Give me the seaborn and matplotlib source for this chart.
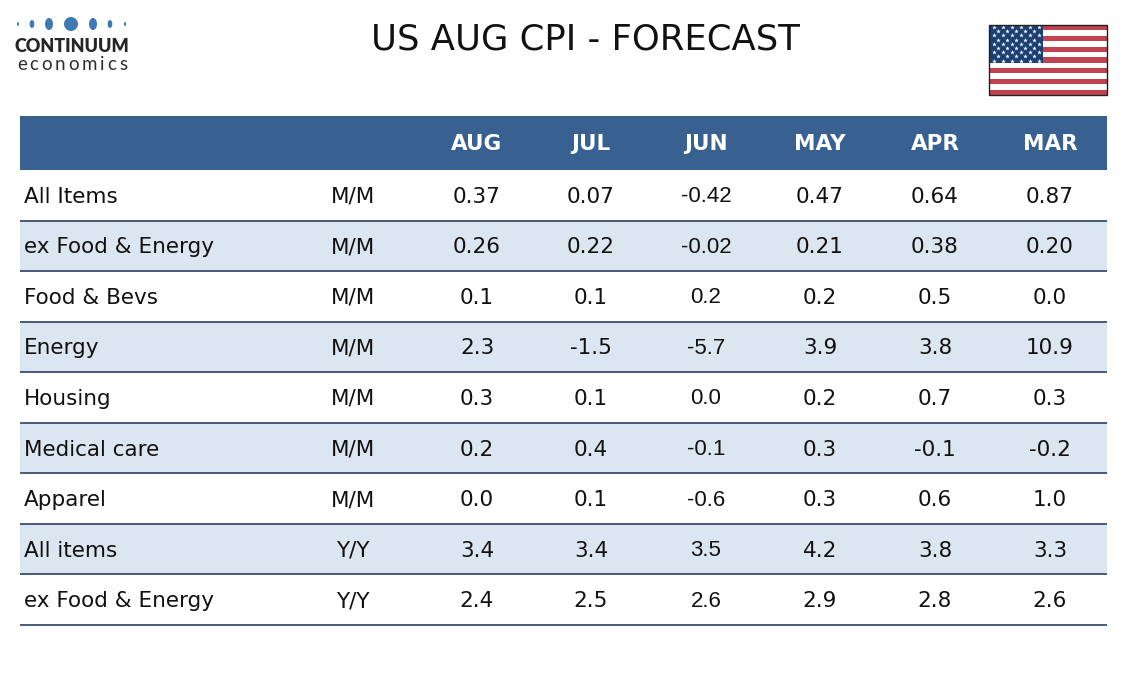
import matplotlib
matplotlib.use("Agg")
import matplotlib.pyplot as plt
import matplotlib.patches as mpatches
import numpy as np
import pandas as pd
import seaborn as sns

# ---- data ----
title = "US AUG CPI - FORECAST"
months = ["AUG", "JUL", "JUN", "MAY", "APR", "MAR"]
items = ["All Items", "ex Food & Energy", "Food & Bevs", "Energy", "Housing",
         "Medical care", "Apparel", "All items", "ex Food & Energy"]
units = ["M/M", "M/M", "M/M", "M/M", "M/M", "M/M", "M/M", "Y/Y", "Y/Y"]
aug = ["0.37", "0.26", "0.1", "2.3", "0.3", "0.2", "0.0", "3.4", "2.4"]
jul = ["0.07", "0.22", "0.1", "-1.5", "0.1", "0.4", "0.1", "3.4", "2.5"]
jun = ["-0.42", "-0.02", "0.2", "-5.7", "0.0", "-0.1", "-0.6", "3.5", "2.6"]
may = ["0.47", "0.21", "0.2", "3.9", "0.2", "0.3", "0.3", "4.2", "2.9"]
apr = ["0.64", "0.38", "0.5", "3.8", "0.7", "-0.1", "0.6", "3.8", "2.8"]
mar = ["0.87", "0.20", "0.0", "10.9", "0.3", "-0.2", "1.0", "3.3", "2.6"]

df = pd.DataFrame({"item": items, "unit": units, "AUG": aug, "JUL": jul,
                   "JUN": jun, "MAY": may, "APR": apr, "MAR": mar})

sns.set_theme(style="white")
plt.rcParams["font.family"] = ["DejaVu Sans"]

W, H = 1134, 680
fig = plt.figure(figsize=(W / 100, H / 100), dpi=100)
fig.patch.set_facecolor("white")

HEADER = "#386192"
BAND = "#dce6f1"
LINE = "#2c3e63"

x0, x1 = 20, 1107
hy0, hy1 = 116, 170
row_h = (625 - 170) / 9
ty0 = 170
nrows = len(items)

def fig_axes(left, top, right, bottom):
    return fig.add_axes([left / W, 1 - bottom / H, (right - left) / W, (bottom - top) / H])

# row band backgrounds via seaborn heatmap
ax_bg = fig_axes(x0, ty0, x1, ty0 + row_h * nrows)
shade = np.array([[i % 2] for i in range(nrows)], dtype=float)
sns.heatmap(shade, ax=ax_bg, cmap=matplotlib.colors.ListedColormap(["white", BAND]),
            cbar=False, xticklabels=False, yticklabels=False, linewidths=0,
            vmin=0, vmax=1)
ax_bg.set_axis_off()

# overlay axes in pixel coordinates
ax = fig.add_axes([0, 0, 1, 1])
ax.set_xlim(0, W)
ax.set_ylim(H, 0)
ax.set_axis_off()
ax.patch.set_alpha(0)

# header band
ax.add_patch(mpatches.Rectangle((x0, hy0), x1 - x0, hy1 - hy0, color=HEADER, lw=0))

col_x = [477, 591, 706, 820, 935, 1050]
unit_x = 353
label_x = 24
body_fs = 15.5

for j, m in enumerate(months):
    ax.text(col_x[j], (hy0 + hy1) / 2 + 1, m, color="white", fontsize=15.5,
            fontweight="bold", ha="center", va="center")

for i in range(nrows):
    yc = ty0 + row_h * (i + 0.5) + 1.5
    ax.text(label_x, yc, df["item"][i], fontsize=body_fs, ha="left", va="center", color="#111111")
    ax.text(unit_x, yc, df["unit"][i], fontsize=body_fs, ha="center", va="center", color="#111111")
    for j, m in enumerate(months):
        if m == "JUN":
            ax.text(col_x[j], yc, df[m][i], fontsize=16, family=["Liberation Sans"],
                    ha="center", va="center", color="#111111")
        else:
            ax.text(col_x[j], yc, df[m][i], fontsize=body_fs, ha="center", va="center",
                    color="#111111")
    yl = ty0 + row_h * (i + 1)
    ax.plot([x0, x1], [yl, yl], color=LINE, lw=1.2, solid_capstyle="butt")

# title
ax.text(585, 40, title, fontsize=25.5, ha="center", va="center", color="#111111")

# logo
dot_x = [18, 32, 49, 71, 93, 110, 125]
dot_w = [2, 4.7, 8, 14, 8, 4.7, 2]
dot_h = [4, 8, 12, 14, 12, 8, 4]
for dx, dw, dh in zip(dot_x, dot_w, dot_h):
    ax.add_patch(mpatches.Ellipse((dx, 24), dw, dh, color="#3d7ab6", lw=0))
ax.text(72, 47, "CONTINUUM", fontsize=13, fontweight="heavy", family=["Lato"],
        ha="center", va="center", color="#262626")

# "economics" with letter tracking, measured per glyph
word = "economics"
renderer = fig.canvas.get_renderer()
letters = []
widths = []
for ch_ in word:
    t = ax.text(0, 64, ch_, fontsize=13.5, family=["Lato"], ha="left", va="center",
                color="#2e2e2e")
    bb = t.get_window_extent(renderer=renderer)
    letters.append(t)
    widths.append(bb.width)
span_l, span_r = 17, 127
track = (span_r - span_l - sum(widths)) / (len(word) - 1)
cur = span_l
for t, w in zip(letters, widths):
    t.set_x(cur)
    cur += w + track

# flag
fx0, fy0, fw, fh = 989, 25, 118, 70
sh = fh / 13
for k in range(13):
    c = "#c1434f" if k % 2 == 0 else "white"
    ax.add_patch(mpatches.Rectangle((fx0, fy0 + k * sh), fw, sh, color=c, lw=0))
cw, ch = fw * 0.46, sh * 7
ax.add_patch(mpatches.Rectangle((fx0, fy0), cw, ch, color="#1b3f73", lw=0))
sx, sy = [], []
for r in range(9):
    n = 6 if r % 2 == 0 else 5
    for c in range(n):
        off = 0 if r % 2 == 0 else 0.5
        sx.append(fx0 + cw * (c + off + 0.5) / 6)
        sy.append(fy0 + ch * (r + 0.5) / 9)
ax.scatter(sx, sy, marker="*", s=12, color="white", lw=0)
ax.add_patch(mpatches.Rectangle((fx0, fy0), fw, fh, fill=False, ec="#222222", lw=1))

fig.savefig("out.png", dpi=100, facecolor="white")
